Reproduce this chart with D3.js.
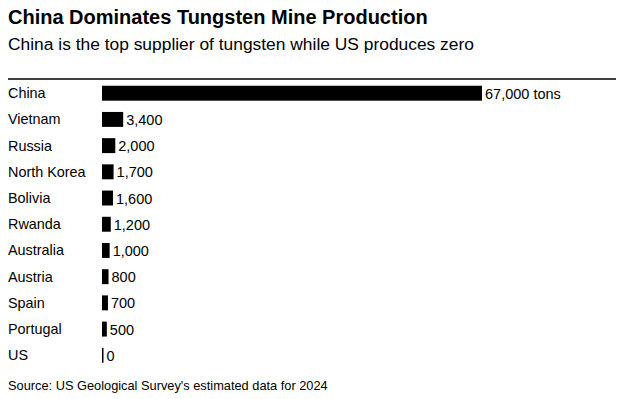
<!DOCTYPE html>
<html>
<head>
<meta charset="utf-8">
<script src="https://cdn.jsdelivr.net/npm/d3@7"></script>
<style>
  body { margin: 0; background: #fff; }
  svg text { font-family: "Liberation Sans", Arial, sans-serif; fill: #000; }
</style>
</head>
<body>
<svg id="chart"></svg>
<script>
const W = 624
const H = 399

const countries = ['China', 'Vietnam', 'Russia', 'North Korea', 'Bolivia', 'Rwanda', 'Australia', 'Austria', 'Spain', 'Portugal', 'US']
const tons = [67000, 3400, 2000, 1700, 1600, 1200, 1000, 800, 700, 500, 0]
const valueLabels = ['67,000 tons', '3,400', '2,000', '1,700', '1,600', '1,200', '1,000', '800', '700', '500', '0']

const svg = d3.select('#chart').attr('width', W).attr('height', H)

svg.append('text')
  .attr('x', 8).attr('y', 24)
  .style('font-size', '20px').style('font-weight', 'bold')
  .text('China Dominates Tungsten Mine Production')

svg.append('text')
  .attr('x', 8).attr('y', 50)
  .style('font-size', '17.4px')
  .text('China is the top supplier of tungsten while US produces zero')

svg.append('line')
  .attr('x1', 8).attr('x2', 616)
  .attr('y1', 79).attr('y2', 79)
  .attr('stroke', '#000').attr('stroke-width', 1.5)

const x = d3.scaleLinear().domain([0, 67000]).range([102, 480])
const y = d3.scaleBand().domain(countries).range([80.5, 368]).paddingInner(0.43).paddingOuter(0.2)

// bars get a small minimum so tiny values still show
const barW = v => v > 0 ? x(v) - x(0) + 2 : 1.5

const rows = countries.map((c, i) => ({ c: c, v: tons[i], l: valueLabels[i] }))

svg.selectAll('text.cat')
  .data(rows)
  .enter()
  .append('text')
  .attr('class', 'cat')
  .attr('x', 8)
  .attr('y', d => y(d.c) + y.bandwidth() / 2)
  .attr('dy', '0.35em')
  .style('font-size', '14.4px')
  .text(d => d.c)

svg.selectAll('rect.bar')
  .data(rows)
  .enter()
  .append('rect')
  .attr('class', 'bar')
  .attr('x', x(0))
  .attr('y', d => y(d.c))
  .attr('width', d => barW(d.v))
  .attr('height', y.bandwidth())
  .attr('fill', '#000')

svg.selectAll('text.val')
  .data(rows)
  .enter()
  .append('text')
  .attr('class', 'val')
  .attr('x', d => x(0) + barW(d.v) + 3)
  .attr('y', d => y(d.c) + y.bandwidth() / 2)
  .attr('dy', '0.38em')
  .style('font-size', '14.5px')
  .text(d => d.l)

svg.append('text')
  .attr('x', 8).attr('y', 390)
  .style('font-size', '12.8px')
  .text("Source: US Geological Survey's estimated data for 2024")
</script>
</body>
</html>
